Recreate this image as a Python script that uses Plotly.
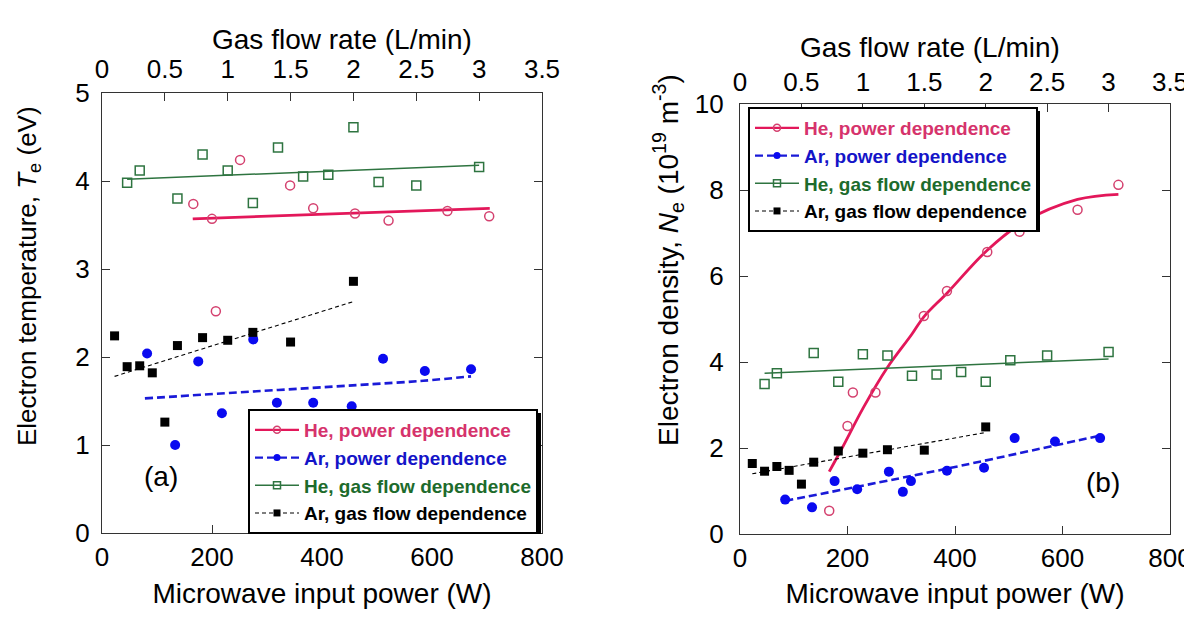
import plotly.graph_objects as go

# ---------------- Panel (a): electron temperature ----------------
a_he_pow_w = [166, 200, 207, 251, 342, 384, 460, 521, 628, 704]
a_he_pow_te = [3.74, 3.57, 2.52, 4.24, 3.95, 3.69, 3.63, 3.55, 3.66, 3.60]
a_he_pow_fit_w = [165, 705]
a_he_pow_fit_te = [3.57, 3.69]

a_ar_pow_w = [82, 133, 175, 218, 275, 318, 384, 454, 511, 587, 671]
a_ar_pow_te = [2.04, 1.00, 1.95, 1.36, 2.20, 1.48, 1.48, 1.44, 1.98, 1.84, 1.86]
a_ar_pow_fit_w = [78, 281, 463, 584, 671]
a_ar_pow_fit_te = [1.53, 1.61, 1.68, 1.73, 1.78]

a_he_flow = [0.2, 0.3, 0.6, 0.8, 1.0, 1.2, 1.4, 1.6, 1.8, 2.0, 2.2, 2.5, 3.0]
a_he_flow_te = [3.98, 4.12, 3.80, 4.30, 4.12, 3.75, 4.38, 4.05, 4.07, 4.61, 3.99, 3.95, 4.16]
a_he_flow_fit = [0.2, 3.0]
a_he_flow_fit_te = [4.02, 4.18]

a_ar_flow = [0.1, 0.2, 0.3, 0.4, 0.5, 0.6, 0.8, 1.0, 1.2, 1.5, 2.0]
a_ar_flow_te = [2.24, 1.89, 1.90, 1.82, 1.26, 2.13, 2.22, 2.19, 2.28, 2.17, 2.86]
a_ar_flow_fit = [0.1, 2.0]
a_ar_flow_fit_te = [1.78, 2.63]

# ---------------- Panel (b): electron density ----------------
b_he_pow_w = [166, 200, 210, 252, 342, 385, 460, 520, 628, 704]
b_he_pow_ne = [0.54, 2.51, 3.29, 3.29, 5.07, 5.65, 6.56, 7.03, 7.54, 8.12]
b_he_pow_fit_w = [166, 190, 230, 273, 320, 342, 385, 460, 527, 628, 704]
b_he_pow_fit_ne = [1.45, 2.0, 2.95, 3.85, 4.65, 5.05, 5.6, 6.6, 7.25, 7.78, 7.90]

b_ar_pow_w = [84, 134, 176, 218, 277, 303, 318, 385, 454, 511, 586, 670]
b_ar_pow_ne = [0.80, 0.62, 1.23, 1.04, 1.45, 0.98, 1.23, 1.47, 1.54, 2.23, 2.15, 2.23]
b_ar_pow_fit_w = [84, 385, 670]
b_ar_pow_fit_ne = [0.77, 1.52, 2.29]

b_he_flow = [0.2, 0.3, 0.6, 0.8, 1.0, 1.2, 1.4, 1.6, 1.8, 2.0, 2.2, 2.5, 3.0]
b_he_flow_ne = [3.49, 3.74, 4.21, 3.54, 4.18, 4.15, 3.68, 3.71, 3.77, 3.54, 4.04, 4.15, 4.23]
b_he_flow_fit = [0.2, 3.0]
b_he_flow_fit_ne = [3.74, 4.07]

b_ar_flow = [0.1, 0.2, 0.3, 0.4, 0.5, 0.6, 0.8, 1.0, 1.2, 1.5, 2.0]
b_ar_flow_ne = [1.64, 1.46, 1.57, 1.48, 1.16, 1.67, 1.93, 1.88, 1.96, 1.95, 2.49]
b_ar_flow_fit = [0.1, 2.0]
b_ar_flow_fit_ne = [1.40, 2.36]

power_ticks = [0, 200, 400, 600, 800]
flow_ticks = [0, 0.5, 1, 1.5, 2, 2.5, 3, 3.5]
flow_tick_labels = ["0", "0.5", "1", "1.5", "2", "2.5", "3", "3.5"]
te_ticks = [0, 1, 2, 3, 4, 5]
ne_ticks = [0, 2, 4, 6, 8, 10]

legend_names = ["He, power dependence", "Ar, power dependence",
                "He, gas flow dependence", "Ar, gas flow dependence"]

# ---------------- styles ----------------
FONT = "Liberation Sans"
PINK_L = "#e3175a"
PINK_M = "#d4416f"
BLUE_L = "#1a1ad8"
BLUE_M = "#0a0af0"
GREEN = "#2e7440"
BLACK = "#000000"
TXT_COL = ["#d6336c", "#1414c8", "#1d6b2c", "#000000"]

styles = [
    dict(line=dict(color=PINK_L, width=2.8), marker=dict(symbol="circle-open", size=9, color=PINK_M, line=dict(width=1.5, color=PINK_M))),
    dict(line=dict(color=BLUE_L, width=2.6, dash="8px,4px"), marker=dict(symbol="circle", size=10, color=BLUE_M)),
    dict(line=dict(color=GREEN, width=1.5), marker=dict(symbol="square-open", size=9, color=GREEN, line=dict(width=1.5, color=GREEN))),
    dict(line=dict(color=BLACK, width=1.1, dash="4px,3px"), marker=dict(symbol="square", size=9, color=BLACK)),
]

fig = go.Figure()

def add_panel(xp, yp, xf, series, legend_id):
    for i, (xd, yd, xfit, yfit, is_flow, shape) in enumerate(series):
        st = styles[i]
        xa = xf if is_flow else xp
        fig.add_trace(go.Scatter(x=xfit, y=yfit, mode="lines", line=dict(**st["line"], shape=shape),
                                 xaxis=xa, yaxis=yp, showlegend=False, hoverinfo="skip"))
        fig.add_trace(go.Scatter(x=xd, y=yd, mode="markers", marker=st["marker"],
                                 xaxis=xa, yaxis=yp, showlegend=False))
    for i, nm in enumerate(legend_names):
        st = styles[i]
        mk = dict(st["marker"])
        mk["size"] = 7
        fig.add_trace(go.Scatter(x=[None], y=[None], mode="lines+markers",
                                 line=dict(color=st["line"]["color"], width=min(st["line"]["width"], 2.2),
                                           dash=st["line"].get("dash", "solid")),
                                 marker=mk, xaxis=xp, yaxis=yp, legend=legend_id,
                                 name='<span style="color:%s">%s</span>' % (TXT_COL[i], nm)))

add_panel("x", "y", "x3", [
    (a_he_pow_w, a_he_pow_te, a_he_pow_fit_w, a_he_pow_fit_te, False, "linear"),
    (a_ar_pow_w, a_ar_pow_te, a_ar_pow_fit_w, a_ar_pow_fit_te, False, "spline"),
    (a_he_flow, a_he_flow_te, a_he_flow_fit, a_he_flow_fit_te, True, "linear"),
    (a_ar_flow, a_ar_flow_te, a_ar_flow_fit, a_ar_flow_fit_te, True, "linear"),
], "legend")

add_panel("x2", "y2", "x4", [
    (b_he_pow_w, b_he_pow_ne, b_he_pow_fit_w, b_he_pow_fit_ne, False, "spline"),
    (b_ar_pow_w, b_ar_pow_ne, b_ar_pow_fit_w, b_ar_pow_fit_ne, False, "spline"),
    (b_he_flow, b_he_flow_ne, b_he_flow_fit, b_he_flow_fit_ne, True, "linear"),
    (b_ar_flow, b_ar_flow_ne, b_ar_flow_fit, b_ar_flow_fit_ne, True, "linear"),
], "legend2")

# page body has an 8px margin: figure occupies window pixels 8..1192, 8..609
OFF = 8
FW, FH = 1184, 601
def px(v): return (v - OFF) / FW
def py(v): return 1 - (v - OFF) / FH

tickfont = dict(family=FONT, size=26, color="black")
common = dict(showgrid=False, zeroline=False, showline=True, linecolor="#333", linewidth=1.3,
              ticks="inside", ticklen=8, tickcolor="#333", tickwidth=1.2, tickfont=tickfont,
              automargin=False, ticklabeloverflow="allow")

legfont = dict(family=FONT, size=19, weight="bold")

fig.update_layout(
    width=FW, height=FH, margin=dict(l=0, r=0, t=0, b=0, autoexpand=False),
    paper_bgcolor="white", plot_bgcolor="white",
    font=dict(family=FONT, color="black"),
    xaxis=dict(**common, domain=[px(102), px(542)], range=[0, 800], tickvals=power_ticks,
               anchor="y", mirror=True, ticklabelstandoff=1,
               title=dict(text="Microwave input power (W)", font=dict(family=FONT, size=28), standoff=32)),
    yaxis=dict(**common, domain=[py(533), py(93)], range=[0, 5], tickvals=te_ticks,
               anchor="x", mirror="ticks", ticklabelstandoff=6),
    xaxis3=dict(**common, overlaying="x", side="top", anchor="y", range=[0, 3.5],
                tickvals=flow_ticks, ticktext=flow_tick_labels, ticklabelstandoff=3),
    xaxis2=dict(**common, domain=[px(740), px(1170)], range=[0, 800], tickvals=power_ticks,
                anchor="y2", mirror=True, ticklabelstandoff=1,
                title=dict(text="Microwave input power (W)", font=dict(family=FONT, size=28), standoff=32)),
    yaxis2=dict(**common, domain=[py(534), py(104)], range=[0, 10], tickvals=ne_ticks,
                anchor="x2", mirror="ticks", ticklabelstandoff=10),
    xaxis4=dict(**common, overlaying="x2", side="top", anchor="y2", range=[0, 3.5],
                tickvals=flow_ticks, ticktext=flow_tick_labels, ticklabelstandoff=1),
    legend=dict(x=px(248), y=py(409), xanchor="left", yanchor="top", bgcolor="white",
                bordercolor="black", borderwidth=2, font=legfont, itemwidth=44, tracegroupgap=0),
    legend2=dict(x=px(748), y=py(107), xanchor="left", yanchor="top", bgcolor="white",
                 bordercolor="black", borderwidth=2, font=legfont, itemwidth=44, tracegroupgap=0),
    shapes=[
        dict(type="rect", xref="paper", yref="paper", x0=px(253), x1=px(541), y0=py(413), y1=py(534),
             fillcolor="black", line=dict(width=0), layer="above"),
        dict(type="rect", xref="paper", yref="paper", x0=px(753), x1=px(1040), y0=py(111), y1=py(232),
             fillcolor="black", line=dict(width=0), layer="above"),
    ],
    annotations=[
        dict(text="Gas flow rate (L/min)", x=px(342), y=py(40), xref="paper", yref="paper",
             showarrow=False, font=dict(family=FONT, size=28), xanchor="center", yanchor="middle"),
        dict(text="Gas flow rate (L/min)", x=px(930), y=py(48), xref="paper", yref="paper",
             showarrow=False, font=dict(family=FONT, size=28), xanchor="center", yanchor="middle"),
        dict(text="Electron temperature, <i>T</i><sub>e</sub> (eV)", x=px(28), y=py(448),
             xref="paper", yref="paper", showarrow=False, textangle=-90, font=dict(family=FONT, size=26),
             xanchor="center", yanchor="bottom"),
        dict(text="Electron density, <i>N</i><sub>e</sub> (10<sup>19</sup> m<sup>-3</sup>)", x=px(668), y=py(448),
             xref="paper", yref="paper", showarrow=False, textangle=-90, font=dict(family=FONT, size=28),
             xanchor="center", yanchor="bottom"),
        dict(text="(a)", x=px(142), y=py(494), xref="paper", yref="paper", showarrow=False,
             font=dict(family=FONT, size=28)),
        dict(text="(b)", x=px(1122), y=py(500), xref="paper", yref="paper", showarrow=False,
             font=dict(family=FONT, size=28)),
    ],
)

fig.write_html("out.html")
